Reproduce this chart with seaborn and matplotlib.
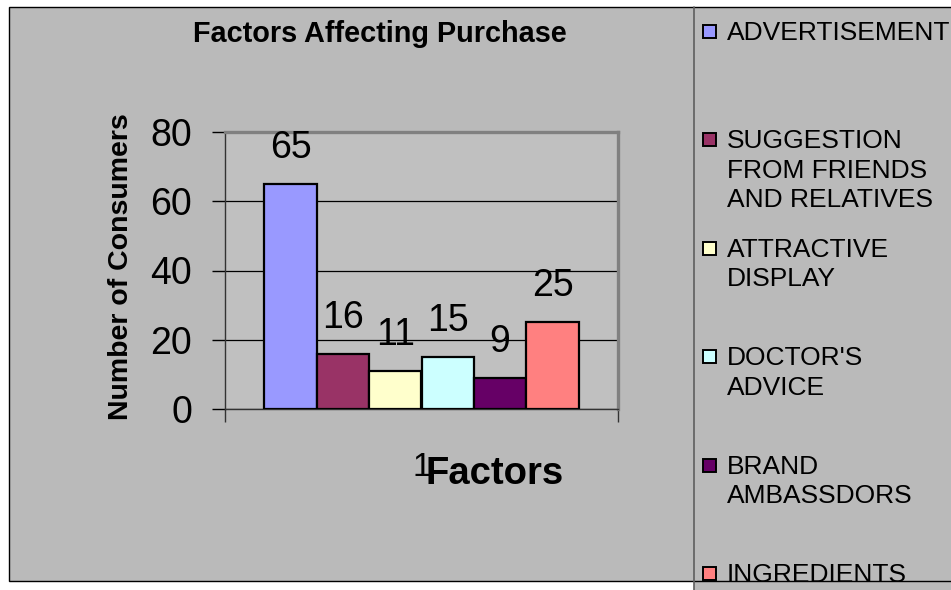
import matplotlib
matplotlib.use("Agg")
import matplotlib.pyplot as plt
from matplotlib.patches import Rectangle
from matplotlib.lines import Line2D
import seaborn as sns
import pandas as pd

# Survey results: what made consumers choose the product
factors = ["ADVERTISEMENT", "SUGGESTION FROM FRIENDS AND RELATIVES",
           "ATTRACTIVE DISPLAY", "DOCTOR'S ADVICE", "BRAND AMBASSDORS",
           "INGREDIENTS"]
legend_labels = ["ADVERTISEMENT", "SUGGESTION\nFROM FRIENDS\nAND RELATIVES",
                 "ATTRACTIVE\nDISPLAY", "DOCTOR'S\nADVICE",
                 "BRAND\nAMBASSDORS", "INGREDIENTS"]
consumers = [65, 16, 11, 15, 9, 25]
series = ["1"] * len(factors)
colors = ["#9999FF", "#993366", "#FFFFCC", "#CCFFFF", "#660066", "#FF8080"]
y_ticks = [0, 20, 40, 60, 80]

df = pd.DataFrame({"series": series, "factor": factors, "consumers": consumers})

sns.set_style("white")
plt.rcParams["font.family"] = ["Liberation Sans", "DejaVu Sans"]
plt.rcParams.update({"text.color": "black", "axes.labelcolor": "black",
                     "xtick.color": "black", "ytick.color": "black"})

W, H = 951, 590
fig = plt.figure(figsize=(W / 100, H / 100), dpi=100, facecolor="white")


def px(x0, y0, x1, y1):
    """Pixel box (top-left origin) -> figure-fraction rectangle args."""
    return (x0 / W, 1 - y1 / H), (x1 - x0) / W, (y1 - y0) / H


CHART_BG = "#BABABA"
PLOT_BG = "#C0C0C0"

# chart area and legend panel backgrounds
xy, w, h = px(694, 7, 960, 600)
fig.patches.append(Rectangle(xy, w, h, transform=fig.transFigure,
                             facecolor=CHART_BG, edgecolor="none", zorder=0))
xy, w, h = px(9, 7, 960, 581)
fig.patches.append(Rectangle(xy, w, h, transform=fig.transFigure,
                             facecolor=CHART_BG, edgecolor="black",
                             linewidth=1.0, zorder=0.5))
fig.lines.append(Line2D([694 / W, 694 / W], [1 - 7 / H, 0], transform=fig.transFigure,
                        color="#5E5E5E", linewidth=1.2, zorder=1))

# plot area
ax = fig.add_axes([225 / W, 1 - 409 / H, (618 - 225) / W, (409 - 132) / H])
ax.set_facecolor(PLOT_BG)
ax.set_zorder(2)

sns.barplot(data=df, x="series", y="consumers", hue="factor", hue_order=factors,
            palette=colors, saturation=1, width=0.8, edgecolor="black",
            linewidth=1.6, legend=False, ax=ax, zorder=3)

for cont, val in zip(ax.containers, consumers):
    ax.bar_label(cont, labels=[f"{val}"], padding=13, fontsize=27, color="black")

ax.set_ylim(0, 80)
ax.set_xlim(-0.5, 0.5)
ax.set_yticks(y_ticks)
ax.yaxis.grid(True, color="black", linewidth=0.9, zorder=1)
ax.set_axisbelow(True)

ax.tick_params(axis="y", direction="out", length=9.5, width=1, color="black",
               labelcolor="black", labelsize=27, pad=14, left=True)
ax.set_xticks([0])
ax.set_xticklabels(["1"])
ax.tick_params(axis="x", which="major", length=0, labelsize=24, pad=31,
               labelcolor="black")
ax.set_xticks([-0.5, 0.5], minor=True)
ax.tick_params(axis="x", which="minor", direction="out", length=9, width=1,
               color="#333333", bottom=True)

for side in ("top", "right"):
    ax.spines[side].set_color("#808080")
    ax.spines[side].set_linewidth(2.4)
for side in ("left", "bottom"):
    ax.spines[side].set_color("#333333")
    ax.spines[side].set_linewidth(1.0)

ax.set_title("Factors Affecting Purchase", fontsize=20.8, fontweight="bold",
             color="black", x=(380 - 225) / 393, y=(409 - 50) / 277, va="baseline")
ax.set_ylabel("Number of Consumers", fontsize=20.5, fontweight="bold", color="black")
ax.yaxis.label.set_va("baseline")
ax.yaxis.set_label_coords((128 - 225) / 393, (409 - 267) / 277)
ax.set_xlabel("Factors", fontsize=27.5, fontweight="bold", color="black")
ax.xaxis.label.set_va("baseline")
ax.xaxis.set_label_coords((495 - 225) / 393, (409 - 484) / 277)

# legend panel entries
for i, (lab, col) in enumerate(zip(legend_labels, colors)):
    base = 40 + 108.4 * i
    xy, w, h = px(703, base - 15, 716, base - 2)
    fig.patches.append(Rectangle(xy, w, h, transform=fig.transFigure,
                                 facecolor=col, edgecolor="black",
                                 linewidth=1.4, zorder=3))
    fig.text(727 / W, 1 - (base - 19) / H, lab, fontsize=19, va="top",
             ha="left", linespacing=1.28, color="black", zorder=3)

fig.savefig("out.png", dpi=100, facecolor="white")
